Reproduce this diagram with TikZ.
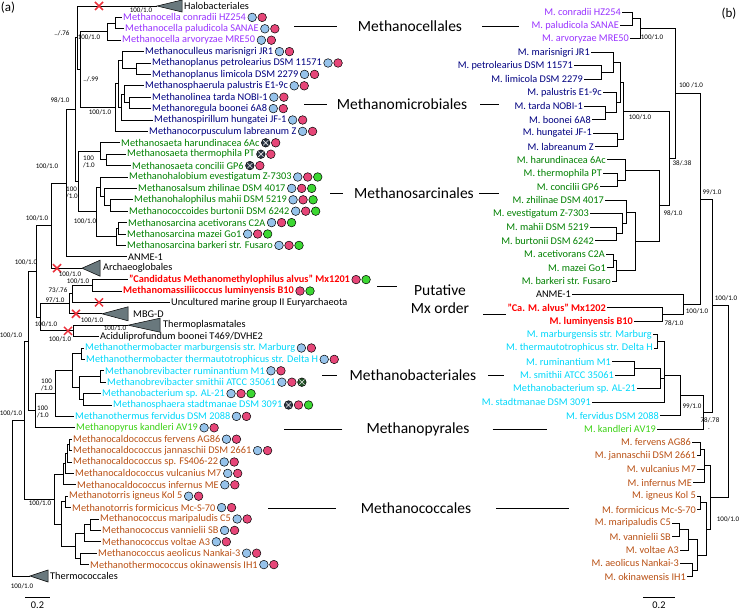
\documentclass[tikz,border=0pt]{standalone}
\usepackage{fontspec}
\setmainfont{Carlito}
\usetikzlibrary{positioning, shapes.misc}

\definecolor{cella}{RGB}{153,51,255}
\definecolor{micro}{RGB}{0,0,128}
\definecolor{sarc}{RGB}{0,128,0}
\definecolor{mx}{RGB}{255,0,0}
\definecolor{bact}{RGB}{0,215,250}
\definecolor{pyr}{RGB}{60,210,20}
\definecolor{cocc}{RGB}{185,80,20}
\definecolor{dcb}{RGB}{150,195,235}
\definecolor{dcp}{RGB}{230,70,120}
\definecolor{dcg}{RGB}{60,215,50}
\definecolor{dcx}{RGB}{45,55,70}
\definecolor{dcy}{RGB}{35,85,40}
\definecolor{cladegray}{RGB}{105,120,125}
\definecolor{xred}{RGB}{235,50,60}

\begin{document}
\begin{tikzpicture}[x=1pt, y=-1pt,
        every node/.style={font=\fontsize{10.3}{12}\selectfont},
        br/.style={line width=0.9pt},
        lf/.style={anchor=west, inner sep=1pt},
        rf/.style={anchor=east, inner sep=1pt},
        bs/.style={inner sep=0pt, font=\fontsize{7}{7.6}\selectfont, align=left},
        ord/.style={inner sep=0pt, font=\fontsize{15.5}{18}\selectfont, align=center},
        ol/.style={line width=0.8pt},
        clade/.style={fill=cladegray, draw=black, line width=0.5pt},
        xmark/.style={cross out, draw=xred, line width=1.5pt, minimum size=6.5pt, inner sep=0pt},
        dotbase/.style={circle, draw=black, line width=0.5pt, minimum size=8.6pt, inner sep=0pt},
        crossed/.style={path picture={\draw[white!85!gray, line width=0.6pt]
            (path picture bounding box.north west) -- (path picture bounding box.south east)
            (path picture bounding box.south west) -- (path picture bounding box.north east);}},
        dotb/.style={dotbase, fill=dcb},
        dotp/.style={dotbase, fill=dcp},
        dotg/.style={dotbase, fill=dcg},
        dotx/.style={dotbase, fill=dcx, crossed},
        doty/.style={dotbase, fill=dcy, crossed},
        dotn/.style={inner sep=0pt},
        dot/.style={dot#1},
    ]
    \useasboundingbox (0,0) rectangle (739,612);

    % Panel letters
    \node[font=\fontsize{13}{15}\selectfont] (pa) at (8,8) {(a)};
    \node[font=\fontsize{13}{15}\selectfont] (pb) at (729,14) {(b)};

    % (a) leaves with their dots
    \foreach \nm/\rw/\x/\col/\da/\db/\dc/\txt in {
        conr/1/122/cella/b/p/n/{Methanocella conradii HZ254},
        palu/2/124/cella/b/p/n/{Methanocella paludicola SANAE},
        arvo/3/121/cella/b/p/n/{Methanocella arvoryzae MRE50},
        mari/4/144/micro/b/p/n/{Methanoculleus marisnigri JR1},
        petr/5/151/micro/b/p/n/{Methanoplanus petrolearius DSM 11571},
        limi/6/151/micro/b/p/n/{Methanoplanus limicola DSM 2279},
        palus/7/144/micro/b/p/n/{Methanosphaerula palustris E1-9c},
        tard/8/151/micro/b/p/n/{Methanolinea tarda NOBI-1},
        boon/9/151/micro/b/p/n/{Methanoregula boonei 6A8},
        hung/10/153/micro/b/p/n/{Methanospirillum hungatei JF-1},
        labr/11/148/micro/b/p/n/{Methanocorpusculum labreanum Z},
        haru/12/120/sarc/x/p/n/{Methanosaeta harundinacea 6Ac},
        ther/13/126/sarc/x/p/n/{Methanosaeta thermophila PT},
        conc/14/131/sarc/x/p/n/{Methanosaeta concilii GP6},
        eves/15/128/sarc/b/p/g/{Methanohalobium evestigatum Z-7303},
        zhil/16/137/sarc/b/p/g/{Methanosalsum zhilinae DSM 4017},
        mahi/17/133/sarc/b/p/g/{Methanohalophilus mahii DSM 5219},
        burt/18/128/sarc/b/p/g/{Methanococcoides burtonii DSM 6242},
        acet/19/127/sarc/b/p/g/{Methanosarcina acetivorans C2A},
        maze/20/126/sarc/b/p/g/{Methanosarcina mazei Go1},
        bark/21/126/sarc/b/p/g/{Methanosarcina barkeri str. Fusaro},
        alvu/24/128/mx/p/g/n/{\bfseries "Candidatus Methanomethylophilus alvus" Mx1201},
        lumi/25/122/mx/p/g/n/{\bfseries Methanomassiliicoccus luminyensis B10},
        marb/30/84/bact/b/p/n/{Methanothermobacter marburgensis str. Marburg},
        thau/31/85/bact/b/p/n/{Methanothermobacter thermautotrophicus str. Delta H},
        rumi/32/104/bact/b/p/n/{Methanobrevibacter ruminantium M1},
        smit/33/106/bact/b/p/y/{Methanobrevibacter smithii ATCC 35061},
        al21/34/101/bact/b/p/g/{Methanobacterium sp. AL-21},
        stad/35/112/bact/x/p/g/{Methanosphaera stadtmanae DSM 3091},
        ferv/36/74/bact/b/p/n/{Methanothermus fervidus DSM 2088},
        kand/37/75/pyr/b/p/n/{Methanopyrus kandleri AV19},
        fvns/38/72/cocc/b/p/n/{Methanocaldococcus fervens AG86},
        jann/39/72/cocc/b/p/n/{Methanocaldococcus jannaschii DSM 2661},
        fs40/40/72/cocc/b/p/n/{Methanocaldococcus sp. FS406-22},
        vulc/41/74/cocc/b/p/n/{Methanocaldococcus vulcanius M7},
        infe/42/76/cocc/b/p/n/{Methanocaldococcus infernus ME},
        igne/43/68/cocc/b/p/n/{Methanotorris igneus Kol 5},
        form/44/71/cocc/b/p/n/{Methanotorris formicicus Mc-S-70},
        mrpl/45/99/cocc/b/p/n/{Methanococcus maripaludis C5},
        vann/46/101/cocc/b/p/n/{Methanococcus vannielii SB},
        volt/47/101/cocc/b/p/n/{Methanococcus voltae A3},
        aeol/48/97/cocc/b/p/n/{Methanococcus aeolicus Nankai-3},
        okin/49/89/cocc/b/p/n/{Methanothermococcus okinawensis IH1}}{
        \node[lf, text=\col] (\nm) at (\x, {6+11.4*\rw}) {\txt};
        \node[dot/.expanded=\da] (\nm-1) at ([xshift=5pt]\nm.east) {};
        \node[dot/.expanded=\db] (\nm-2) at ([xshift=15pt]\nm.east) {};
        \node[dot/.expanded=\dc] (\nm-3) at ([xshift=25pt]\nm.east) {};
    }
    \node[lf] (anme) at (127,256.8) {ANME-1};
    \node[lf] (mgii) at (170,302.4) {Uncultured marine group II Euryarchaeota};
    \node[lf] (acid) at (99,336.6) {Aciduliprofundum boonei T469/DVHE2};

    % (a) collapsed clades
    \coordinate (halo) at (157,6);
    \draw[clade] (halo) -- ++(25,-6) -- ++(0,12) -- cycle;
    \node[lf] (halol) at (183,6) {Halobacteriales};
    \coordinate (arch) at (82,268.2);
    \draw[clade] (arch) -- ++(18,-8) -- ++(0,16) -- cycle;
    \node[lf] (archl) at (102,268.2) {Archaeoglobales};
    \coordinate (mbgd) at (102,313.8);
    \draw[clade] (mbgd) -- ++(26,-7) -- ++(0,14) -- cycle;
    \node[lf] (mbgdl) at (132,313.8) {MBG-D};
    \coordinate (thpl) at (128,325.2);
    \draw[clade] (thpl) -- ++(32,-7) -- ++(0,14) -- cycle;
    \node[lf] (thpll) at (162,325.2) {Thermoplasmatales};
    \coordinate (thco) at (30,576);
    \draw[clade] (thco) -- ++(18,-6) -- ++(0,12) -- cycle;
    \node[lf] (thcol) at (49,576) {Thermococcales};

    % (a) inner nodes
    \coordinate (c1) at (115,23.1);      \coordinate (cella) at (107,31.65);
    \coordinate (m1) at (136,68.7);      \coordinate (m2) at (122,60.15);
    \coordinate (m3) at (129,102.9);     \coordinate (m4) at (124,94.35);
    \coordinate (m5) at (121,107.2);     \coordinate (m6) at (118,83.7);
    \coordinate (micro) at (115,107.5);
    \coordinate (X) at (80,69.6);        \coordinate (Y) at (77,37.8);
    \coordinate (s1) at (106,159.9);     \coordinate (saeta) at (100,151.35);
    \coordinate (s2) at (110,205.5);     \coordinate (s3) at (104,196.95);
    \coordinate (s4) at (100,187);       \coordinate (s5) at (118,228.3);
    \coordinate (sarcina) at (116,236.85);
    \coordinate (s6) at (96,211.9);      \coordinate (sarc) at (78,181.6);
    \coordinate (V) at (75,109.7);       \coordinate (W) at (66,183.25);
    \coordinate (U) at (51,225.7);
    \coordinate (d1) at (92,285.3);      \coordinate (d2) at (72,293.85);
    \coordinate (d3) at (69,303.8);      \coordinate (d4) at (73,330.9);
    \coordinate (diaf) at (40,317.35);   \coordinate (T) at (36,271.5);
    \coordinate (b1) at (81,353.7);      \coordinate (b2) at (100,376.5);
    \coordinate (b3) at (83,399.3);      \coordinate (b4) at (79,387.9);
    \coordinate (b5) at (72,370.8);      \coordinate (bact) at (55,393.6);
    \coordinate (bp) at (35,410.7);      \coordinate (N2) at (28,341.1);
    \coordinate (k1) at (69,444.9);      \coordinate (k2) at (67,453.45);
    \coordinate (k3) at (65,463.4);      \coordinate (caldo) at (63,474.1);
    \coordinate (torr) at (65,501.9);    \coordinate (k4) at (90,524.7);
    \coordinate (k5) at (84,533.25);     \coordinate (k6) at (80,558.9);
    \coordinate (k7) at (75,546.1);      \coordinate (k8) at (61,524);
    \coordinate (cocc) at (54,499.05);   \coordinate (N1) at (24,420.1);
    \coordinate (root) at (12,498.5);

    % (a) branches
    \draw[br] (c1) |- (conr.west) (c1) |- (palu.west);
    \draw[br] (cella) |- (c1) (cella) |- (arvo.west);
    \draw[br] (m1) |- (petr.west) (m1) |- (limi.west);
    \draw[br] (m2) |- (mari.west) (m2) |- (m1);
    \draw[br] (m3) |- (tard.west) (m3) |- (boon.west);
    \draw[br] (m4) |- (palus.west) (m4) |- (m3);
    \draw[br] (m5) |- (m4) (m5) |- (hung.west);
    \draw[br] (m6) |- (m2) (m6) |- (m5);
    \draw[br] (micro) |- (m6) (micro) |- (labr.west);
    \draw[br] (X) |- (cella) (X) |- (micro);
    \draw[br] (Y) |- (halo) (Y) |- (X);
    \draw[br] (s1) |- (ther.west) (s1) |- (conc.west);
    \draw[br] (saeta) |- (haru.west) (saeta) |- (s1);
    \draw[br] (s2) |- (mahi.west) (s2) |- (burt.west);
    \draw[br] (s3) |- (zhil.west) (s3) |- (s2);
    \draw[br] (s4) |- (eves.west) (s4) |- (s3);
    \draw[br] (s5) |- (acet.west) (s5) |- (maze.west);
    \draw[br] (sarcina) |- (s5) (sarcina) |- (bark.west);
    \draw[br] (s6) |- (s4) (s6) |- (sarcina);
    \draw[br] (sarc) |- (saeta) (sarc) |- (s6);
    \draw[br] (V) |- (Y) (V) |- (sarc);
    \draw[br] (W) |- (V) (W) |- (anme.west);
    \draw[br] (U) |- (W) (U) |- (arch);
    \draw[br] (d1) |- (alvu.west) (d1) |- (lumi.west);
    \draw[br] (d2) |- (d1) (d2) |- (mgii.west);
    \draw[br] (d3) |- (d2) (d3) |- (mbgd);
    \draw[br] (d4) |- (thpl) (d4) |- (acid.west);
    \draw[br] (diaf) |- (d3) (diaf) |- (d4);
    \draw[br] (T) |- (U) (T) |- (diaf);
    \draw[br] (b1) |- (marb.west) (b1) |- (thau.west);
    \draw[br] (b2) |- (rumi.west) (b2) |- (smit.west);
    \draw[br] (b3) |- (al21.west) (b3) |- (stad.west);
    \draw[br] (b4) |- (b2) (b4) |- (b3);
    \draw[br] (b5) |- (b1) (b5) |- (b4);
    \draw[br] (bact) |- (b5) (bact) |- (ferv.west);
    \draw[br] (bp) |- (bact) (bp) |- (kand.west);
    \draw[br] (N2) |- (T) (N2) |- (bp);
    \draw[br] (k1) |- (fvns.west) (k1) |- (jann.west);
    \draw[br] (k2) |- (k1) (k2) |- (fs40.west);
    \draw[br] (k3) |- (k2) (k3) |- (vulc.west);
    \draw[br] (caldo) |- (k3) (caldo) |- (infe.west);
    \draw[br] (torr) |- (igne.west) (torr) |- (form.west);
    \draw[br] (k4) |- (mrpl.west) (k4) |- (vann.west);
    \draw[br] (k5) |- (k4) (k5) |- (volt.west);
    \draw[br] (k6) |- (aeol.west) (k6) |- (okin.west);
    \draw[br] (k7) |- (k5) (k7) |- (k6);
    \draw[br] (k8) |- (torr) (k8) |- (k7);
    \draw[br] (cocc) |- (caldo) (cocc) |- (k8);
    \draw[br] (N1) |- (N2) (N1) |- (cocc);
    \draw[br] (root) |- (N1) (root) |- (thco);

    % (a) lost marks
    \node[xmark] (xhalo) at (99,6) {};
    \node[xmark] (xarch) at (57,268.2) {};
    \node[xmark] (xmgii) at (99,302.4) {};
    \node[xmark] (xmbgd) at (76,313.8) {};
    \node[xmark] (xthpl) at (68,330.9) {};

    % (a) support values
    \node[bs] (sHalo) at (141,10.5) {100/1.0};
    \node[bs] (sY) at (62,33) {../.76};
    \node[bs] (sCella) at (89,37) {100/1.0};
    \node[bs] (sX) at (91,79) {../.99};
    \node[bs] (sV) at (60,100) {98/1.0};
    \node[bs] (sMicro) at (100,112) {100/1.0};
    \node[bs] (sSaeta) at (89,162) {100\\/1.0};
    \node[bs] (sW) at (47,166) {100/1.0};
    \node[bs] (sSarc) at (72,193) {100\\/1.0};
    \node[bs] (sS6) at (85,221) {100/1.0};
    \node[bs] (sU) at (37,218) {100/1.0};
    \node[bs] (sT) at (26,262) {100/1.0};
    \node[bs] (sArch) at (70,274) {100/1.0};
    \node[bs] (sMx) at (78,281) {100/1.0};
    \node[bs] (sD2) at (58,290) {73/.76};
    \node[bs] (sD3) at (55,300) {97/1.0};
    \node[bs] (sMbgd) at (92,320) {100/1.0};
    \node[bs] (sThpl) at (115,328.5) {100/1.0};
    \node[bs] (sDiaf) at (46,324) {100/1.0};
    \node[bs] (sD4) at (60,339) {100/1.0};
    \node[bs] (sN2) at (11,335) {100/1.0};
    \node[bs] (sBact) at (47,385) {100\\/1.0};
    \node[bs] (sBp) at (43,412) {100\\/1.0};
    \node[bs] (sN1) at (11,413) {100/1.0};
    \node[bs] (sCocc) at (40,503) {100/1.0};
    \node[bs] (sRoot) at (22,586) {100/1.0};

    % (a) scale
    \coordinate (sla) at (25,597);
    \coordinate (slb) at (50,597);
    \draw[br] (sla) -- (slb);
    \node (sl) at (37.5,605) {0.2};

    % Order names in the middle
    \node[ord] (ocella) at (410,26) {Methanocellales};
    \node[ord] (omicro) at (402,104) {Methanomicrobiales};
    \node[ord] (osarc) at (414,193) {Methanosarcinales};
    \node[ord] (omx) at (440,299) {Putative\\Mx order};
    \node[ord] (obact) at (413,375) {Methanobacteriales};
    \node[ord] (opyr) at (418,429) {Methanopyrales};
    \node[ord] (occ) at (416,508) {Methanococcales};
    \draw[ol] ([xshift=-21]ocella.west) -- +(-43,0);
    \draw[ol] ([xshift=20]ocella.east) -- +(37,0);
    \draw[ol] ([xshift=-10]omicro.west) -- +(-23,0);
    \draw[ol] ([xshift=13]omicro.east) -- +(19,0);
    \draw[ol] ([xshift=-11]osarc.west) -- +(-13,0);
    \draw[ol] ([xshift=5]osarc.east) -- +(20,0);
    \draw[ol] ([xshift=-14,yshift=13]omx.west) -- +(-20,0);
    \draw[ol] ([xshift=14,yshift=-15]omx.east) -- +(23,0);
    \draw[ol] ([xshift=-13]obact.west) -- +(-15,0);
    \draw[ol] ([xshift=12]obact.east) -- +(16,0);
    \draw[ol] ([xshift=-24]opyr.west) -- +(-58,0);
    \draw[ol] ([xshift=23]opyr.east) -- +(54,0);
    \draw[ol] ([xshift=-25]occ.west) -- +(-68,0);
    \draw[ol] ([xshift=25]occ.east) -- +(73,0);

    % (b) leaves
    \foreach \nm/\rw/\x/\col/\txt in {
        rconr/0/622/cella/{M. conradii HZ254},
        rpalu/1/620/cella/{M. paludicola SANAE},
        rarvo/2/630/cella/{M. arvoryzae MRE50},
        rmari/3/591/micro/{M. marisnigri JR1},
        rpetr/4/574/micro/{M. petrolearius DSM 11571},
        rlimi/5/584/micro/{M. limicola DSM 2279},
        rpalus/6/603/micro/{M. palustris E1-9c},
        rtard/7/584/micro/{M. tarda NOBI-1},
        rboon/8/592/micro/{M. boonei 6A8},
        rhung/9/593/micro/{M. hungatei JF-1},
        rlabr/10/595/micro/{M. labreanum Z},
        rharu/11/607/sarc/{M. harundinacea 6Ac},
        rther/12/603/sarc/{M. thermophila PT},
        rconc/13/600/sarc/{M. concilii GP6},
        rzhil/14/605/sarc/{M. zhilinae DSM 4017},
        reves/15/590/sarc/{M. evestigatum Z-7303},
        rmahi/16/590/sarc/{M. mahii DSM 5219},
        rburt/17/595/sarc/{M. burtonii DSM 6242},
        racet/18/606/sarc/{M. acetivorans C2A},
        rmaze/19/607/sarc/{M. mazei Go1},
        rbark/20/612/sarc/{M. barkeri str. Fusaro},
        ranme/21/572/black/{ANME-1},
        ralvu/22/607/mx/{\bfseries "Ca. M. alvus" Mx1202},
        rlumi/23/634/mx/{\bfseries M. luminyensis B10},
        rmarb/24/653/bact/{M. marburgensis str. Marburg},
        rthau/25/654/bact/{M. thermautotrophicus str. Delta H},
        rrumi/26/612/bact/{M. ruminantium M1},
        rsmit/27/615/bact/{M. smithii ATCC 35061},
        ral21/28/637/bact/{Methanobacterium sp. AL-21},
        rstad/29/592/bact/{M. stadtmanae DSM 3091},
        rferv/30/660/bact/{M. fervidus DSM 2088},
        rkand/31/657/pyr/{M. kandleri AV19},
        rfvns/32/692/cocc/{M. fervens AG86},
        rjann/33/697/cocc/{M. jannaschii DSM 2661},
        rvulc/34/697/cocc/{M. vulcanius M7},
        rinfe/35/693/cocc/{M. infernus ME},
        rigne/36/697/cocc/{M. igneus Kol 5},
        rform/37/697/cocc/{M. formicicus Mc-S-70},
        rmrpl/38/672/cocc/{M. maripaludis C5},
        rvann/39/672/cocc/{M. vannielii SB},
        rvolt/40/680/cocc/{M. voltae A3},
        raeol/41/680/cocc/{M. aeolicus Nankai-3},
        rokin/42/687/cocc/{M. okinawensis IH1}}{
        \node[rf, text=\col] (\nm) at (\x, {12+13.45*\rw}) {\txt};
    }

    % (b) inner nodes
    \coordinate (rc1) at (632,18.7);     \coordinate (rcella) at (640,28.8);
    \coordinate (rm1) at (601,72.5);     \coordinate (rm2) at (613,62.4);
    \coordinate (rm3) at (605,112.9);    \coordinate (rm4) at (616,102.8);
    \coordinate (rm5) at (617,139.8);    \coordinate (rm6) at (620,82.6);
    \coordinate (rmicro) at (623,111.2);
    \coordinate (rs1) at (617,180.1);    \coordinate (rsaeta) at (625,170);
    \coordinate (rs2) at (616,233.9);    \coordinate (rs3) at (622,223.8);
    \coordinate (rs4) at (626,212);      \coordinate (rs5) at (613,260.8);
    \coordinate (rsarcina) at (616,270.9);
    \coordinate (rs6) at (635,241.5);    \coordinate (rsarc) at (659,205.7);
    \coordinate (rmm) at (669,158.5);    \coordinate (rA3) at (675,93.6);
    \coordinate (rmx) at (662,314.7);    \coordinate (rA4) at (683,304.6);
    \coordinate (rA2) at (700,199.1);
    \coordinate (rb1) at (657,341.5);    \coordinate (rb2) at (634,368.4);
    \coordinate (rb3) at (660,378.5);    \coordinate (rb4) at (664,375);
    \coordinate (rbact) at (680,395);    \coordinate (rbp) at (703,412);
    \coordinate (rX) at (712,305.5);
    \coordinate (rk1) at (700,449.1);    \coordinate (rcaldo) at (704,465.9);
    \coordinate (rtorr) at (700,502.9);  \coordinate (rk4) at (679,529.8);
    \coordinate (rk5) at (688,539.9);    \coordinate (rk6) at (692,570.2);
    \coordinate (rk7) at (697,555);      \coordinate (rk8) at (706,529);
    \coordinate (rcocc) at (710,497.5);  \coordinate (rroot) at (728,401.5);

    % (b) branches
    \draw[br] (rc1) |- (rconr.east) (rc1) |- (rpalu.east);
    \draw[br] (rcella) |- (rc1) (rcella) |- (rarvo.east);
    \draw[br] (rm1) |- (rpetr.east) (rm1) |- (rlimi.east);
    \draw[br] (rm2) |- (rmari.east) (rm2) |- (rm1);
    \draw[br] (rm3) |- (rtard.east) (rm3) |- (rboon.east);
    \draw[br] (rm4) |- (rpalus.east) (rm4) |- (rm3);
    \draw[br] (rm5) |- (rhung.east) (rm5) |- (rlabr.east);
    \draw[br] (rm6) |- (rm2) (rm6) |- (rm4);
    \draw[br] (rmicro) |- (rm6) (rmicro) |- (rm5);
    \draw[br] (rs1) |- (rther.east) (rs1) |- (rconc.east);
    \draw[br] (rsaeta) |- (rharu.east) (rsaeta) |- (rs1);
    \draw[br] (rs2) |- (rmahi.east) (rs2) |- (rburt.east);
    \draw[br] (rs3) |- (reves.east) (rs3) |- (rs2);
    \draw[br] (rs4) |- (rzhil.east) (rs4) |- (rs3);
    \draw[br] (rs5) |- (racet.east) (rs5) |- (rmaze.east);
    \draw[br] (rsarcina) |- (rs5) (rsarcina) |- (rbark.east);
    \draw[br] (rs6) |- (rs4) (rs6) |- (rsarcina);
    \draw[br] (rsarc) |- (rsaeta) (rsarc) |- (rs6);
    \draw[br] (rmm) |- (rmicro) (rmm) |- (rsarc);
    \draw[br] (rA3) |- (rcella) (rA3) |- (rmm);
    \draw[br] (rmx) |- (ralvu.east) (rmx) |- (rlumi.east);
    \draw[br] (rA4) |- (ranme.east) (rA4) |- (rmx);
    \draw[br] (rA2) |- (rA3) (rA2) |- (rA4);
    \draw[br] (rb1) |- (rmarb.east) (rb1) |- (rthau.east);
    \draw[br] (rb2) |- (rrumi.east) (rb2) |- (rsmit.east);
    \draw[br] (rb3) |- (rb2) (rb3) |- (ral21.east);
    \draw[br] (rb4) |- (rb1) (rb4) |- (rb3) (rb4) |- (rstad.east);
    \draw[br] (rbact) |- (rb4) (rbact) |- (rferv.east);
    \draw[br] (rbp) |- (rbact) (rbp) |- (rkand.east);
    \draw[br] (rX) |- (rA2) (rX) |- (rbp);
    \draw[br] (rk1) |- (rfvns.east) (rk1) |- (rjann.east);
    \draw[br] (rcaldo) |- (rk1) (rcaldo) |- (rvulc.east) (rcaldo) |- (rinfe.east);
    \draw[br] (rtorr) |- (rigne.east) (rtorr) |- (rform.east);
    \draw[br] (rk4) |- (rmrpl.east) (rk4) |- (rvann.east);
    \draw[br] (rk5) |- (rk4) (rk5) |- (rvolt.east);
    \draw[br] (rk6) |- (raeol.east) (rk6) |- (rokin.east);
    \draw[br] (rk7) |- (rk5) (rk7) |- (rk6);
    \draw[br] (rk8) |- (rtorr) (rk8) |- (rk7);
    \draw[br] (rcocc) |- (rcaldo) (rcocc) |- (rk8);
    \draw[br] (rroot) |- (rX) (rroot) |- (rcocc);

    % (b) support values
    \node[bs] (tCella) at (652,37) {100/1.0};
    \node[bs] (tA3) at (691,85) {100 /1.0};
    \node[bs] (tMicro) at (640,117) {100/1.0};
    \node[bs] (tMm) at (682,163) {38/.38};
    \node[bs] (tA2) at (712,192) {99/1.0};
    \node[bs] (tSarc) at (673,213) {98/1.0};
    \node[bs] (tX) at (726,298) {100/1.0};
    \node[bs] (tA4) at (697,311) {100/1.0};
    \node[bs] (tMx) at (674,323) {78/1.0};
    \node[bs] (tBact) at (692,406) {99/1.0};
    \node[bs] (tBp) at (710,420) {78/.78};
    \node[bs] (tDot) at (709,429) {.};
    \node[bs] (tCocc) at (728,519) {100/1.0};

    % (b) scale
    \coordinate (sra) at (643,597);
    \coordinate (srb) at (675,597);
    \draw[br] (sra) -- (srb);
    \node (sr) at (659,605) {0.2};
\end{tikzpicture}
\end{document}
